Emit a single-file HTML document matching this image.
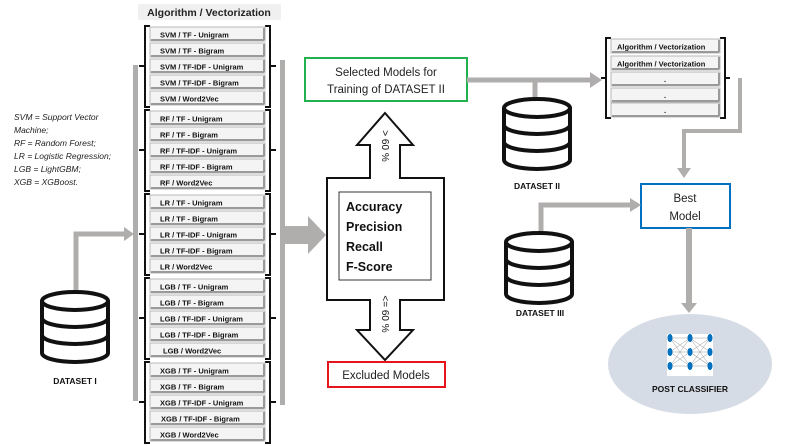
<!DOCTYPE html>
<html><head><meta charset="utf-8"><style>
html,body{margin:0;padding:0;background:#fff;width:793px;height:446px;overflow:hidden}
svg{display:block}
.r{fill:#f4f4f4;stroke:#b8b8b8;stroke-width:1}
.rs{fill:none;stroke:#9a9a9a;stroke-width:2}
.t{font-family:"Liberation Sans",sans-serif;font-size:7.5px;font-weight:bold;fill:#111}
.b{fill:none;stroke:#111;stroke-width:2}
.g{fill:none;stroke:#b0adad;stroke-width:5}
.ga{fill:#b0adad}
.db{fill:#fff;stroke:#111;stroke-width:4}
.lbl{font-family:"Liberation Sans",sans-serif;font-size:8.5px;font-weight:bold;fill:#111}
</style></head><body>
<svg width="793" height="446" viewBox="0 0 793 446" xmlns="http://www.w3.org/2000/svg">
<defs>
<g id="row"><rect class="r" x="0" y="0" width="115" height="14"/><path class="rs" d="M114 1 V13 M1 13 H114"/></g>
<g id="db"><path class="db" d="M0 9 A33 9 0 0 1 66 9 V61 A33 9 0 0 1 0 61 Z"/><path class="db" d="M0 9 A33 9 0 0 0 66 9 M0 26 A33 9 0 0 0 66 26 M0 43 A33 9 0 0 0 66 43"/></g>
</defs>

<rect x="138" y="4" width="143" height="16" fill="#f0f0f0"/>
<text x="209" y="16" text-anchor="middle" font-family="Liberation Sans,sans-serif" font-size="10.5" font-weight="bold" fill="#222">Algorithm / Vectorization</text>

<rect x="133" y="65" width="5" height="336" class="ga"/>
<rect x="280" y="60" width="5" height="345" class="ga"/>

<path class="b" d="M150 26 H145 V107 H150 M145 66 H139 M265 26 H270 V107 H265 M270 66 H276"/>
<use href="#row" x="150" y="27"/><use href="#row" x="150" y="43"/><use href="#row" x="150" y="59"/><use href="#row" x="150" y="75"/><use href="#row" x="150" y="91"/>
<text class="t" x="160" y="37.5">SVM / TF - Unigram</text>
<text class="t" x="160" y="53.5">SVM / TF - Bigram</text>
<text class="t" x="160" y="69.5">SVM / TF-IDF - Unigram</text>
<text class="t" x="160" y="85.5">SVM / TF-IDF - Bigram</text>
<text class="t" x="160" y="101.5">SVM /  Word2Vec</text>
<path class="b" d="M150 110 H145 V191 H150 M145 150 H139 M265 110 H270 V191 H265 M270 150 H276"/>
<use href="#row" x="150" y="111"/><use href="#row" x="150" y="127"/><use href="#row" x="150" y="143"/><use href="#row" x="150" y="159"/><use href="#row" x="150" y="175"/>
<text class="t" x="160" y="121.5">RF / TF - Unigram</text>
<text class="t" x="160" y="137.5">RF / TF - Bigram</text>
<text class="t" x="160" y="153.5">RF / TF-IDF - Unigram</text>
<text class="t" x="160" y="169.5">RF / TF-IDF - Bigram</text>
<text class="t" x="160" y="185.5">RF /  Word2Vec</text>
<path class="b" d="M150 194 H145 V275 H150 M145 234 H139 M265 194 H270 V275 H265 M270 234 H276"/>
<use href="#row" x="150" y="195"/><use href="#row" x="150" y="211"/><use href="#row" x="150" y="227"/><use href="#row" x="150" y="243"/><use href="#row" x="150" y="259"/>
<text class="t" x="160" y="205.5">LR / TF - Unigram</text>
<text class="t" x="160" y="221.5">LR / TF - Bigram</text>
<text class="t" x="160" y="237.5">LR / TF-IDF - Unigram</text>
<text class="t" x="160" y="253.5">LR / TF-IDF - Bigram</text>
<text class="t" x="160" y="269.5">LR /  Word2Vec</text>
<path class="b" d="M150 278 H145 V359 H150 M145 318 H139 M265 278 H270 V359 H265 M270 318 H276"/>
<use href="#row" x="150" y="279"/><use href="#row" x="150" y="295"/><use href="#row" x="150" y="311"/><use href="#row" x="150" y="327"/><use href="#row" x="150" y="343"/>
<text class="t" x="160" y="289.5">LGB / TF - Unigram</text>
<text class="t" x="160" y="305.5">LGB / TF - Bigram</text>
<text class="t" x="160" y="321.5">LGB / TF-IDF - Unigram</text>
<text class="t" x="160" y="337.5">LGB / TF-IDF - Bigram</text>
<text class="t" x="163" y="353.5">LGB /  Word2Vec</text>
<path class="b" d="M150 362 H145 V443 H150 M145 402 H139 M265 362 H270 V443 H265 M270 402 H276"/>
<use href="#row" x="150" y="363"/><use href="#row" x="150" y="379"/><use href="#row" x="150" y="395"/><use href="#row" x="150" y="411"/><use href="#row" x="150" y="427"/>
<text class="t" x="160" y="373.5">XGB / TF - Unigram</text>
<text class="t" x="160" y="389.5">XGB / TF - Bigram</text>
<text class="t" x="160" y="405.5">XGB / TF-IDF - Unigram</text>
<text class="t" x="161" y="421.5">XGB / TF-IDF - Bigram</text>
<text class="t" x="160" y="437.5">XGB /  Word2Vec</text>

<g font-family="Liberation Sans,sans-serif" font-size="8.5" font-style="italic" fill="#222">
<text x="14" y="120">SVM = Support Vector</text>
<text x="14" y="133">Machine;</text>
<text x="14" y="146">RF = Random Forest;</text>
<text x="14" y="159">LR = Logistic Regression;</text>
<text x="14" y="172">LGB = LightGBM;</text>
<text x="14" y="185">XGB = XGBoost.</text>
</g>

<path class="g" d="M76 294 V234 H126"/>
<polygon class="ga" points="124,227 134,234 124,241"/>
<use href="#db" x="42" y="292"/>
<text class="lbl" x="75" y="384" text-anchor="middle">DATASET I</text>

<polygon class="ga" points="285,226 308,226 308,216 326,235 308,254 308,244 285,244"/>

<path d="M385 113 L413 145 L400 145 L400 178 L444 178 L444 300 L400 300 L400 330 L413 330 L385 360 L357 330 L370 330 L370 300 L327 300 L327 178 L370 178 L370 145 L357 145 Z" fill="#fff" stroke="#111" stroke-width="2"/>
<rect x="339" y="192" width="92" height="88" fill="#fff" stroke="#333" stroke-width="1"/>
<g font-family="Liberation Sans,sans-serif" font-size="12.5" font-weight="bold" fill="#111">
<text x="346" y="211">Accuracy</text>
<text x="346" y="231">Precision</text>
<text x="346" y="251">Recall</text>
<text x="346" y="271">F-Score</text>
</g>
<text transform="translate(382,146) rotate(90)" font-family="Liberation Sans,sans-serif" font-size="10" fill="#111" text-anchor="middle">&gt; 60 %</text>
<text transform="translate(382,314) rotate(90)" font-family="Liberation Sans,sans-serif" font-size="10" fill="#111" text-anchor="middle">&lt;= 60 %</text>

<rect x="305" y="58" width="162" height="43" fill="#fff" stroke="#22b14c" stroke-width="2"/>
<text x="386" y="76" text-anchor="middle" font-family="Liberation Sans,sans-serif" font-size="11.5" fill="#222">Selected Models for</text>
<text x="386" y="93" text-anchor="middle" font-family="Liberation Sans,sans-serif" font-size="11.5" fill="#222">Training of DATASET II</text>
<rect x="328" y="362" width="117" height="25" fill="#fff" stroke="#e8141b" stroke-width="2"/>
<text x="386" y="379" text-anchor="middle" font-family="Liberation Sans,sans-serif" font-size="11.5" fill="#222">Excluded Models</text>

<path class="g" d="M467 80 H592 M535 80 V100"/>
<polygon class="ga" points="590,72 602,80 590,88"/>
<use href="#db" x="504" y="99"/>
<text class="lbl" x="537" y="189" text-anchor="middle">DATASET II</text>

<path class="b" d="M611 38 H606 V118 H611 M606 78 H601 M720 38 H725 V118 H720 M725 78 H730"/>
<rect class="r" x="611" y="39" width="109" height="14"/><path class="rs" d="M719 40 V52 M612 52 H719"/>
<rect class="r" x="611" y="56" width="109" height="14"/><path class="rs" d="M719 57 V69 M612 69 H719"/>
<rect class="r" x="611" y="72" width="109" height="14"/><path class="rs" d="M719 73 V85 M612 85 H719"/>
<rect class="r" x="611" y="88" width="109" height="14"/><path class="rs" d="M719 89 V101 M612 101 H719"/>
<rect class="r" x="611" y="103" width="109" height="14"/><path class="rs" d="M719 104 V116 M612 116 H719"/>
<text class="t" x="617" y="49.5">Algorithm / Vectorization</text>
<text class="t" x="617" y="66.5">Algorithm / Vectorization</text>
<text class="t" x="665" y="82" text-anchor="middle">.</text>
<text class="t" x="665" y="98" text-anchor="middle">.</text>
<text class="t" x="665" y="113" text-anchor="middle">.</text>

<path class="g" d="M740 78 V131 H684 V170" style="stroke-width:4"/>
<polygon class="ga" points="677,168 684,178 691,168"/>

<rect x="641" y="184" width="89" height="44" fill="#fff" stroke="#0070c0" stroke-width="2"/>
<text x="685" y="202" text-anchor="middle" font-family="Liberation Sans,sans-serif" font-size="11.5" fill="#222">Best</text>
<text x="685" y="220" text-anchor="middle" font-family="Liberation Sans,sans-serif" font-size="11.5" fill="#222">Model</text>

<path class="g" d="M541 234 V205 H632"/>
<polygon class="ga" points="630,198 641,205 630,212"/>
<use href="#db" x="506" y="233"/>
<text class="lbl" x="540" y="316" text-anchor="middle">DATASET III</text>

<rect x="686" y="228" width="6" height="76" class="ga"/>
<polygon class="ga" points="681,303 697,303 689,313"/>

<ellipse cx="690" cy="364" rx="82" ry="50" fill="#d6dce5"/>
<rect x="667" y="334" width="46" height="42" fill="#fff"/>
<path fill="none" stroke="#999" stroke-width="0.5" d="M670 338 L710 338 M670 352 L710 352 M670 366 L710 366 M670 338 L690 352 L710 338 M670 338 L690 366 L710 352 M670 352 L690 338 L710 366 M670 352 L690 366 M670 366 L690 352 L710 366 M670 366 L690 338 M690 338 L710 352 M690 352 L710 366 M690 366 L710 338"/>
<g fill="#0070c0">
<ellipse cx="670" cy="338" rx="2.5" ry="4"/><ellipse cx="690" cy="338" rx="2.5" ry="4"/><ellipse cx="710" cy="338" rx="2.5" ry="4"/>
<ellipse cx="670" cy="352" rx="2.5" ry="4"/><ellipse cx="690" cy="352" rx="2.5" ry="4"/><ellipse cx="710" cy="352" rx="2.5" ry="4"/>
<ellipse cx="670" cy="366" rx="2.5" ry="4"/><ellipse cx="690" cy="366" rx="2.5" ry="4"/><ellipse cx="710" cy="366" rx="2.5" ry="4"/>
</g>
<text x="690" y="392" text-anchor="middle" class="lbl" font-size="9">POST CLASSIFIER</text>
</svg>
</body></html>
